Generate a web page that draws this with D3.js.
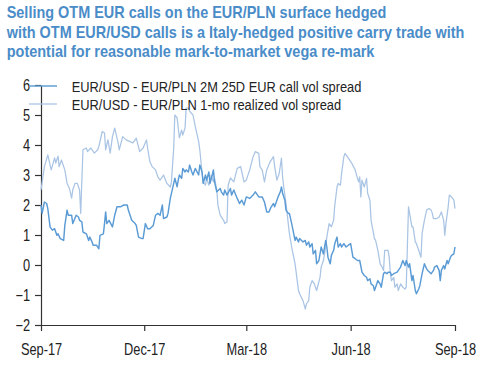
<!DOCTYPE html>
<html><head><meta charset="utf-8">
<script src="https://cdn.jsdelivr.net/npm/d3@7"></script>
<style>body{margin:0;background:#fff} svg{display:block}</style>
</head><body><svg id="c" width="484" height="365"></svg>
<script>
const titleLines = [
  "Selling OTM EUR calls on the EUR/PLN surface hedged",
  "with OTM EUR/USD calls is a Italy-hedged positive carry trade with",
  "potential for reasonable mark-to-market vega re-mark"
];
const legendLabels = [
  "EUR/USD - EUR/PLN 2M 25D EUR call vol spread",
  "EUR/USD - EUR/PLN 1-mo realized vol spread"
];
const xTickLabels = ["Sep-17","Dec-17","Mar-18","Jun-18","Sep-18"];
const xTickDates = ["2017-09-01","2017-12-01","2018-03-01","2018-06-01","2018-09-01"];
const yTicks = [-2,-1,0,1,2,3,4,5,6];

const callSpread = [
["2017-09-01",2.0],["2017-09-02",1.72],["2017-09-04",2.1],["2017-09-06",2.05],["2017-09-07",1.88],
["2017-09-09",1.27],["2017-09-11",1.16],["2017-09-13",1.21],["2017-09-15",0.99],["2017-09-16",1.04],
["2017-09-18",0.88],["2017-09-21",0.82],["2017-09-22",1.32],["2017-09-24",1.83],["2017-09-25",1.66],
["2017-09-28",1.66],["2017-09-29",1.38],["2017-10-02",1.66],["2017-10-04",1.6],["2017-10-05",1.49],
["2017-10-07",1.44],["2017-10-08",1.1],["2017-10-11",1.04],["2017-10-13",0.82],["2017-10-14",0.93],
["2017-10-16",0.77],["2017-10-17",0.66],["2017-10-20",0.66],["2017-10-22",0.54],["2017-10-23",0.99],
["2017-10-26",1.04],["2017-10-27",1.38],["2017-10-28",1.77],["2017-10-29",1.38],["2017-10-31",1.49],
["2017-11-03",1.27],["2017-11-05",1.66],["2017-11-07",1.94],["2017-11-10",1.94],["2017-11-13",2.0],
["2017-11-16",2.0],["2017-11-17",1.83],["2017-11-20",1.49],["2017-11-23",1.38],["2017-11-24",1.32],
["2017-11-26",0.93],["2017-11-29",0.88],["2017-11-30",0.88],["2017-12-02",1.38],["2017-12-04",1.21],
["2017-12-06",1.21],["2017-12-09",1.32],["2017-12-11",1.66],["2017-12-13",1.72],["2017-12-15",1.66],
["2017-12-17",2.0],["2017-12-18",1.55],["2017-12-21",1.6],["2017-12-22",1.72],["2017-12-24",2.22],
["2017-12-27",2.72],["2017-12-28",2.89],["2017-12-30",2.61],["2017-12-31",2.83],["2018-01-01",3.0],
["2018-01-03",2.89],["2018-01-04",3.22],["2018-01-06",3.1],["2018-01-07",3.17],["2018-01-09",3.1],
["2018-01-10",3.33],["2018-01-12",3.1],["2018-01-13",3.0],["2018-01-15",3.22],["2018-01-18",3.0],
["2018-01-19",3.33],["2018-01-21",3.1],["2018-01-22",2.72],["2018-01-24",3.0],["2018-01-25",2.83],
["2018-01-27",3.1],["2018-01-28",2.72],["2018-01-30",3.0],["2018-01-31",3.17],["2018-02-01",2.77],
["2018-02-03",2.44],["2018-02-06",2.55],["2018-02-07",2.44],["2018-02-09",2.33],["2018-02-10",2.5],
["2018-02-12",2.33],["2018-02-15",2.55],["2018-02-16",2.33],["2018-02-18",2.5],["2018-02-21",2.22],
["2018-02-23",2.05],["2018-02-25",2.16],["2018-02-27",2.0],["2018-03-01",2.27],["2018-03-04",2.22],
["2018-03-07",2.33],["2018-03-09",2.44],["2018-03-12",2.27],["2018-03-15",2.27],["2018-03-17",2.1],
["2018-03-19",1.77],["2018-03-21",1.77],["2018-03-23",1.94],["2018-03-25",2.05],["2018-03-26",1.94],
["2018-03-28",2.16],["2018-03-29",2.27],["2018-03-31",2.44],["2018-04-01",2.6],["2018-04-02",2.39],
["2018-04-04",2.16],["2018-04-05",1.83],["2018-04-07",1.72],["2018-04-08",1.72],["2018-04-10",1.38],
["2018-04-13",0.82],["2018-04-14",0.93],["2018-04-16",0.77],["2018-04-17",0.88],["2018-04-20",0.77],
["2018-04-22",0.82],["2018-04-23",0.66],["2018-04-25",0.77],["2018-04-26",0.6],["2018-04-28",0.71],
["2018-04-29",0.37],["2018-05-01",0.49],["2018-05-02",0.04],["2018-05-04",0.15],["2018-05-05",0.37],
["2018-05-06",0.6],["2018-05-08",0.37],["2018-05-10",0.82],["2018-05-11",0.6],["2018-05-12",0.26],
["2018-05-14",0.04],["2018-05-15",0.32],["2018-05-17",0.49],["2018-05-18",0.71],["2018-05-20",0.93],
["2018-05-21",0.6],["2018-05-23",0.71],["2018-05-24",0.6],["2018-05-26",0.71],["2018-05-28",0.6],
["2018-05-30",0.66],["2018-06-01",0.71],["2018-06-02",0.49],["2018-06-03",0.26],["2018-06-05",0.21],
["2018-06-07",0.15],["2018-06-09",0.15],["2018-06-11",-0.24],["2018-06-13",-0.35],["2018-06-15",-0.41],
["2018-06-16",-0.52],["2018-06-18",-0.46],["2018-06-19",-0.63],["2018-06-21",-0.69],["2018-06-22",-0.85],
["2018-06-24",-0.63],["2018-06-25",-0.52],["2018-06-27",-0.63],["2018-06-28",-0.74],["2018-06-30",-0.29],
["2018-07-01",-0.24],["2018-07-03",-0.29],["2018-07-04",-0.24],["2018-07-06",-0.24],["2018-07-07",-0.35],
["2018-07-09",-0.29],["2018-07-12",-0.24],["2018-07-13",-0.18],["2018-07-15",-0.07],["2018-07-16",0.04],
["2018-07-17",0.15],["2018-07-19",-0.02],["2018-07-20",0.15],["2018-07-22",-0.07],["2018-07-23",0.04],
["2018-07-25",-0.52],["2018-07-26",-0.35],["2018-07-28",-0.85],["2018-07-29",-0.96],["2018-07-31",-0.8],
["2018-08-01",-0.69],["2018-08-03",-0.29],["2018-08-05",0.04],["2018-08-07",-0.13],["2018-08-08",-0.18],
["2018-08-11",-0.29],["2018-08-13",-0.18],["2018-08-14",-0.07],["2018-08-16",-0.02],["2018-08-18",-0.18],
["2018-08-19",-0.52],["2018-08-20",-0.18],["2018-08-22",-0.02],["2018-08-23",-0.13],["2018-08-25",0.15],
["2018-08-26",0.04],["2018-08-28",0.26],["2018-08-29",0.32],["2018-08-31",0.37],["2018-09-01",0.6]
];

const realizedSpread = [
["2017-09-01",2.5],["2017-09-04",3.28],["2017-09-07",3.67],["2017-09-10",3.17],["2017-09-13",3.57],
["2017-09-14",3.4],["2017-09-16",3.63],["2017-09-17",3.28],["2017-09-19",3.5],["2017-09-22",3.17],
["2017-09-24",2.72],["2017-09-26",2.56],["2017-09-28",2.23],["2017-09-29",2.5],["2017-10-01",2.72],
["2017-10-03",2.72],["2017-10-05",2.5],["2017-10-06",1.72],["2017-10-08",3.84],["2017-10-11",3.9],
["2017-10-12",3.78],["2017-10-15",3.9],["2017-10-18",3.73],["2017-10-21",3.84],["2017-10-22",3.95],
["2017-10-25",4.45],["2017-10-27",4.4],["2017-10-28",3.84],["2017-10-30",4.17],["2017-11-01",3.73],
["2017-11-03",4.28],["2017-11-05",4.56],["2017-11-08",4.07],["2017-11-09",3.84],["2017-11-12",4.28],
["2017-11-15",4.17],["2017-11-18",4.12],["2017-11-21",4.07],["2017-11-24",4.23],["2017-11-27",3.78],
["2017-11-30",3.9],["2017-12-03",4.17],["2017-12-04",3.9],["2017-12-06",3.44],["2017-12-08",3.28],
["2017-12-11",3.17],["2017-12-13",2.94],["2017-12-15",2.83],["2017-12-18",3.0],["2017-12-21",2.72],
["2017-12-24",2.6],["2017-12-25",2.77],["2017-12-27",3.9],["2017-12-28",5.0],["2017-12-30",4.9],
["2018-01-01",4.24],["2018-01-03",4.5],["2018-01-04",4.33],["2018-01-06",4.57],["2018-01-07",5.23],
["2018-01-09",5.23],["2018-01-10",5.13],["2018-01-13",5.0],["2018-01-15",4.62],["2018-01-18",4.11],
["2018-01-19",3.84],["2018-01-21",3.07],["2018-01-22",2.77],["2018-01-24",2.66],["2018-01-25",2.9],
["2018-01-27",2.66],["2018-01-29",3.0],["2018-01-31",2.77],["2018-02-01",2.9],["2018-02-03",2.5],
["2018-02-04",1.99],["2018-02-06",1.66],["2018-02-09",1.49],["2018-02-10",1.38],["2018-02-12",1.44],
["2018-02-13",2.66],["2018-02-15",2.9],["2018-02-18",2.77],["2018-02-21",3.22],["2018-02-24",3.28],
["2018-02-27",2.77],["2018-03-01",2.83],["2018-03-04",3.17],["2018-03-07",3.61],["2018-03-09",3.78],
["2018-03-12",3.72],["2018-03-13",3.28],["2018-03-15",3.17],["2018-03-17",2.77],["2018-03-19",3.17],
["2018-03-22",3.44],["2018-03-25",3.61],["2018-03-26",3.28],["2018-03-28",2.83],["2018-03-30",3.05],
["2018-04-01",3.56],["2018-04-02",2.94],["2018-04-03",2.6],["2018-04-05",2.05],["2018-04-07",1.38],
["2018-04-08",1.05],["2018-04-10",0.6],["2018-04-13",0.04],["2018-04-16",-0.85],["2018-04-17",-0.96],
["2018-04-20",-1.19],["2018-04-22",-1.47],["2018-04-23",-1.3],["2018-04-25",-1.19],["2018-04-26",-0.74],
["2018-04-28",-0.52],["2018-04-30",-0.63],["2018-05-02",-0.85],["2018-05-05",-0.41],["2018-05-06",-0.07],
["2018-05-08",0.15],["2018-05-10",0.6],["2018-05-11",0.93],["2018-05-13",1.38],["2018-05-15",1.27],
["2018-05-17",1.49],["2018-05-18",1.99],["2018-05-20",2.6],["2018-05-21",2.72],["2018-05-23",2.66],
["2018-05-24",3.05],["2018-05-26",3.61],["2018-05-27",3.72],["2018-05-30",3.56],["2018-06-02",3.39],
["2018-06-05",3.17],["2018-06-07",2.89],["2018-06-08",2.77],["2018-06-09",2.94],["2018-06-10",2.27],
["2018-06-11",2.83],["2018-06-13",2.6],["2018-06-15",2.89],["2018-06-16",2.39],["2018-06-18",2.16],
["2018-06-19",1.49],["2018-06-22",0.88],["2018-06-23",0.82],["2018-06-25",0.49],["2018-06-27",0.04],
["2018-06-28",-0.02],["2018-06-30",-0.18],["2018-07-01",0.49],["2018-07-04",0.49],["2018-07-05",0.26],
["2018-07-06",-0.29],["2018-07-07",-0.52],["2018-07-09",-0.41],["2018-07-10",-0.74],["2018-07-12",-0.63],
["2018-07-13",-0.85],["2018-07-15",-0.63],["2018-07-17",-0.74],["2018-07-19",-0.8],["2018-07-20",-0.74],
["2018-07-22",1.94],["2018-07-23",1.72],["2018-07-25",1.27],["2018-07-26",1.27],["2018-07-28",0.77],
["2018-07-29",0.71],["2018-07-31",0.49],["2018-08-02",0.26],["2018-08-03",1.05],["2018-08-05",1.49],
["2018-08-07",1.83],["2018-08-09",1.88],["2018-08-11",1.83],["2018-08-12",1.72],["2018-08-13",1.55],
["2018-08-16",1.55],["2018-08-18",1.6],["2018-08-20",1.77],["2018-08-22",1.49],["2018-08-23",0.99],
["2018-08-24",1.38],["2018-08-26",1.94],["2018-08-27",2.33],["2018-08-29",2.27],["2018-08-31",2.16],
["2018-09-01",1.88]
];

const parse = d3.timeParse("%Y-%m-%d");
const svg = d3.select("#c");
const FONT = "'Liberation Sans', Arial, sans-serif";
const SQUEEZE = 0.8;

const x = d3.scaleTime().domain([parse("2017-09-01"), parse("2018-09-01")]).range([41, 455]);
const y = d3.scaleLinear().domain([-2, 6]).range([325, 85]);

// fit a text to a target width by horizontal scaling (keeps its bbox honest)
function fitText(sel, left, baseline, width) {
  const node = sel.node();
  const L = node.getComputedTextLength();
  const sx = width / L;
  sel.attr("x", 0).attr("y", 0)
    .attr("transform", `translate(${left},${baseline}) scale(${sx},1)`);
}

// Title
const titleWidths = [380, 458, 368];
const titleY = [18, 37.7, 57.3];
titleLines.forEach((t, i) => {
  const tx = svg.append("text")
    .attr("font-family", FONT).attr("font-weight", "bold").attr("font-size", 16.5)
    .attr("fill", "#4a8cc8").text(t);
  fitText(tx, 6.7, titleY[i], titleWidths[i]);
});

// Axes
const yAxis = svg.append("g").attr("transform", "translate(41,0)")
  .call(d3.axisLeft(y).tickValues(yTicks).tickSize(6).tickPadding(5).tickSizeOuter(0).tickFormat(d3.format("d")));
const xAxis = svg.append("g").attr("transform", "translate(0,325)")
  .call(d3.axisBottom(x).tickValues(xTickDates.map(parse)).tickSize(6).tickPadding(13).tickSizeOuter(0)
    .tickFormat((d, i) => xTickLabels[i]));
[yAxis, xAxis].forEach(g => {
  g.select(".domain").attr("stroke", "#333").attr("stroke-width", 1.2);
  g.selectAll(".tick line").attr("stroke", "#333").attr("stroke-width", 1.2);
  g.selectAll(".tick text").attr("font-family", FONT).attr("font-size", 16).attr("fill", "#222");
});

// Squeeze tick labels horizontally with a real transform (so the bbox is honest)
[yAxis, xAxis].forEach(g => {
  g.selectAll(".tick text").each(function() {
    const t = d3.select(this);
    const x0 = +t.attr("x") || 0;
    t.attr("x", x0 / SQUEEZE).attr("transform", `scale(${SQUEEZE},1)`);
  });
});

// Lines
const line = d3.line().x(d => x(parse(d[0]))).y(d => y(d[1]));
svg.append("path").datum(realizedSpread).attr("d", line)
  .attr("fill", "none").attr("stroke", "#a9c4e4").attr("stroke-width", 1.25).attr("stroke-linejoin", "round");
svg.append("path").datum(callSpread).attr("d", line)
  .attr("fill", "none").attr("stroke", "#5b9bd5").attr("stroke-width", 1.45).attr("stroke-linejoin", "round");

// Legend
const legendColors = ["#5b9bd5", "#a9c4e4"];
const legendWidths = [290, 269.5];
const legendLineY = [86, 104];
legendLabels.forEach((t, i) => {
  svg.append("line").attr("x1", 29).attr("x2", 57).attr("y1", legendLineY[i]).attr("y2", legendLineY[i])
    .attr("stroke", legendColors[i]).attr("stroke-width", i === 0 ? 1.45 : 1.25);
  const tx = svg.append("text")
    .attr("font-family", FONT).attr("font-size", 15).attr("fill", "#222").text(t);
  fitText(tx, 71.7, legendLineY[i] + 5.5, legendWidths[i]);
});
</script></body></html>
